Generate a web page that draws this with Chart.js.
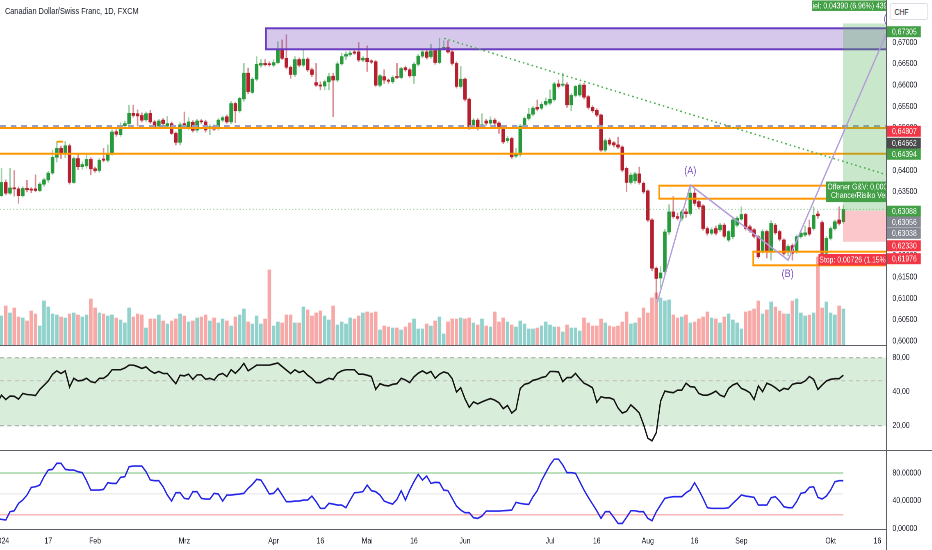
<!DOCTYPE html>
<html><head><meta charset="utf-8">
<script src="https://cdn.jsdelivr.net/npm/chart.js@4.4.0/dist/chart.umd.min.js"></script>
<style>
html,body{margin:0;padding:0;background:#fff;width:932px;height:550px;overflow:hidden;}
#wrap{position:relative;width:932px;height:550px;overflow:hidden;}
#inner{position:absolute;left:0;top:0;width:1137px;height:550px;transform:scaleX(0.82);transform-origin:0 0;font-family:'Liberation Sans',Arial,sans-serif;}
canvas{position:absolute;left:0;}
.ln{position:absolute;background:#5d5f66;}
#title{position:absolute;left:6px;top:6px;font-size:9px;color:#131722;white-space:nowrap;}
#chf{position:absolute;left:1085px;top:3px;width:47px;height:17px;border:1px solid #d6d9e0;border-radius:3px;background:#fff;font-size:8.4px;color:#131722;line-height:16px;padding-left:5px;box-sizing:border-box;}
</style></head>
<body><div id="wrap">
<div id="inner">
<canvas id="c1" width="1137" height="346" style="top:0"></canvas>
<canvas id="c2" width="1137" height="104" style="top:346px"></canvas>
<canvas id="c3" width="1137" height="100" style="top:450px"></canvas>
<div id="title">Canadian Dollar/Swiss Franc, 1D, FXCM</div>
<div id="chf">CHF</div>
</div>
<div class="ln" style="left:0;top:345px;width:886px;height:1px"></div>
<div class="ln" style="left:0;top:450px;width:932px;height:1px"></div>
<div class="ln" style="left:0;top:529px;width:886px;height:1px"></div>
<div class="ln" style="left:886px;top:0;width:1px;height:550px"></div>
</div>
<script>
const FONT = "'Liberation Sans',Arial,sans-serif";
Chart.defaults.font.family = FONT;
Chart.defaults.color = '#131722';
const S = 0.82;            // horizontal squeeze of the page (screen = inner * S)
const u = v => v / S;      // screen px -> inner px

// ---------- DATA ----------
const firstBar = 1; // bar index of first candle (trading days since 1 Jan 2024)
const opens = [
0.6341,0.6372,0.6347,0.6359,0.6357,0.6341,0.6358,0.6355,0.6357,0.6353,
0.6368,0.6378,0.6394,0.6431,0.6452,0.6440,0.6458,0.6372,0.6428,0.6409,
0.6411,0.6426,0.6404,0.6400,0.6427,0.6424,0.6440,0.6491,0.6484,0.6505,
0.6510,0.6534,0.6533,0.6529,0.6519,0.6534,0.6514,0.6504,0.6518,0.6504,
0.6510,0.6487,0.6466,0.6510,0.6499,0.6513,0.6495,0.6516,0.6514,0.6500,
0.6503,0.6498,0.6518,0.6526,0.6514,0.6557,0.6540,0.6568,0.6628,0.6583,
0.6614,0.6647,0.6651,0.6650,0.6647,0.6653,
0.6682,0.6663,0.6642,0.6625,0.6660,0.6647,0.6661,0.6636,0.6606,0.6600,
0.6598,0.6608,0.6621,0.6612,0.6650,0.6668,0.6672,0.6678,0.6678,0.6659,
0.6663,0.6657,0.6655,0.6600,0.6620,0.6612,0.6608,0.6620,0.6618,0.6641,
0.6636,0.6622,0.6649,0.6668,0.6678,0.6667,0.6681,0.6653,0.6686,0.6688,
0.6678,0.6651,0.6597,0.6614,0.6567,0.6503,0.6518,0.6503,0.6516,0.6511,
0.6518,0.6511,0.6499,0.6470,0.6475,0.6434,0.6437,0.6504,0.6522,0.6532,
0.6548,0.6546,0.6555,0.6558,0.6566,0.6603,0.6600,0.6601,0.6554,0.6576,
0.6577,0.6600,0.6573,0.6548,0.6541,0.6530,0.6448,0.6471,0.6465,0.6460,
0.6455,0.6405,0.6372,0.6376,0.6392,0.6370,0.6352,0.6284,0.6171,0.6148,
0.6163,0.6256,0.6303,0.6292,0.6288,0.6303,0.6299,0.6347,0.6327,0.6317,
0.6264,0.6253,0.6264,0.6261,0.6272,0.6237,0.6245,0.6272,0.6286,0.6297,
0.6268,0.6261,0.6245,0.6210,0.6257,0.6210,0.6272,0.6257,0.6237,0.6210,
0.6224,0.6210,0.6245,0.6249,0.6266,0.6264,0.6298,0.6278,0.6206,0.6241,
0.6264,0.6284,0.6280];
const highs = [
0.6405,0.6378,0.6405,0.6400,0.6362,0.6362,0.6377,0.6360,0.6390,0.6372,
0.6382,0.6398,0.6448,0.6468,0.6457,0.6468,0.6462,0.6432,0.6440,0.6420,
0.6440,0.6430,0.6408,0.6428,0.6452,0.6460,0.6495,0.6500,0.6512,0.6516,
0.6553,0.6553,0.6542,0.6535,0.6537,0.6541,0.6518,0.6520,0.6522,0.6527,
0.6514,0.6490,0.6512,0.6537,0.6524,0.6517,0.6520,0.6520,0.6518,0.6507,
0.6507,0.6522,0.6528,0.6530,0.6562,0.6560,0.6572,0.6651,0.6640,0.6618,
0.6667,0.6660,0.6660,0.6655,0.6660,0.6702,
0.6706,0.6718,0.6645,0.6667,0.6664,0.6682,0.6665,0.6640,0.6651,0.6608,
0.6612,0.6628,0.6628,0.6655,0.6675,0.6678,0.6680,0.6683,0.6700,0.6667,
0.6692,0.6660,0.6658,0.6625,0.6636,0.6615,0.6622,0.6651,0.6642,0.6645,
0.6640,0.6653,0.6672,0.6682,0.6682,0.6696,0.6685,0.6710,0.6704,0.6704,
0.6681,0.6655,0.6644,0.6617,0.6570,0.6522,0.6522,0.6533,0.6520,0.6526,
0.6522,0.6514,0.6503,0.6480,0.6478,0.6452,0.6508,0.6526,0.6546,0.6550,
0.6565,0.6560,0.6570,0.6589,0.6607,0.6612,0.6628,0.6606,0.6580,0.6600,
0.6604,0.6604,0.6576,0.6552,0.6545,0.6532,0.6474,0.6476,0.6468,0.6478,
0.6458,0.6408,0.6394,0.6396,0.6408,0.6373,0.6355,0.6287,0.6174,0.6175,
0.6262,0.6320,0.6339,0.6300,0.6308,0.6310,0.6366,0.6356,0.6330,0.6320,
0.6268,0.6266,0.6270,0.6276,0.6276,0.6260,0.6288,0.6292,0.6315,0.6300,
0.6272,0.6264,0.6248,0.6262,0.6260,0.6282,0.6276,0.6260,0.6240,0.6226,
0.6228,0.6249,0.6257,0.6270,0.6284,0.6315,0.6305,0.6282,0.6245,0.6268,
0.6284,0.6315,0.6318];
const lows = [
0.6339,0.6343,0.6344,0.6340,0.6323,0.6338,0.6350,0.6348,0.6350,0.6350,
0.6363,0.6372,0.6390,0.6420,0.6428,0.6430,0.6368,0.6370,0.6402,0.6403,
0.6405,0.6390,0.6396,0.6396,0.6420,0.6420,0.6436,0.6480,0.6480,0.6500,
0.6505,0.6525,0.6504,0.6514,0.6515,0.6510,0.6498,0.6500,0.6506,0.6500,
0.6484,0.6460,0.6460,0.6498,0.6496,0.6490,0.6490,0.6510,0.6490,0.6484,
0.6494,0.6495,0.6514,0.6510,0.6510,0.6512,0.6536,0.6562,0.6580,0.6580,
0.6610,0.6642,0.6645,0.6644,0.6643,0.6650,
0.6660,0.6638,0.6616,0.6620,0.6643,0.6643,0.6632,0.6620,0.6597,0.6589,
0.6589,0.6589,0.6526,0.6608,0.6647,0.6660,0.6668,0.6672,0.6655,0.6655,
0.6632,0.6650,0.6597,0.6596,0.6604,0.6604,0.6604,0.6615,0.6615,0.6632,
0.6618,0.6604,0.6645,0.6664,0.6661,0.6663,0.6649,0.6650,0.6683,0.6675,
0.6647,0.6593,0.6593,0.6563,0.6496,0.6498,0.6495,0.6499,0.6506,0.6507,
0.6506,0.6487,0.6463,0.6465,0.6428,0.6430,0.6433,0.6500,0.6518,0.6528,
0.6540,0.6542,0.6551,0.6554,0.6562,0.6593,0.6596,0.6548,0.6540,0.6572,
0.6574,0.6568,0.6544,0.6536,0.6526,0.6445,0.6444,0.6458,0.6455,0.6451,
0.6397,0.6350,0.6368,0.6370,0.6368,0.6346,0.6280,0.6165,0.6100,0.6125,
0.6158,0.6250,0.6288,0.6284,0.6282,0.6290,0.6295,0.6318,0.6310,0.6260,
0.6248,0.6249,0.6249,0.6257,0.6242,0.6233,0.6240,0.6268,0.6283,0.6260,
0.6255,0.6242,0.6194,0.6206,0.6195,0.6190,0.6250,0.6235,0.6202,0.6200,
0.6190,0.6206,0.6241,0.6245,0.6247,0.6260,0.6288,0.6200,0.6200,0.6237,
0.6260,0.6272,0.6276];
const closes = [
0.6372,0.6347,0.6359,0.6357,0.6341,0.6358,0.6355,0.6354,0.6353,0.6368,
0.6378,0.6394,0.6431,0.6452,0.6440,0.6458,0.6372,0.6428,0.6409,0.6414,
0.6426,0.6404,0.6400,0.6424,0.6424,0.6440,0.6490,0.6485,0.6505,0.6510,
0.6534,0.6529,0.6528,0.6518,0.6533,0.6514,0.6503,0.6516,0.6510,0.6510,
0.6487,0.6466,0.6507,0.6502,0.6514,0.6494,0.6516,0.6514,0.6495,0.6502,
0.6497,0.6518,0.6524,0.6514,0.6557,0.6540,0.6569,0.6628,0.6585,0.6614,
0.6649,0.6651,0.6648,0.6648,0.6653,0.6683,
0.6663,0.6642,0.6625,0.6660,0.6647,0.6661,0.6636,0.6625,0.6600,0.6598,
0.6608,0.6620,0.6612,0.6650,0.6667,0.6672,0.6675,0.6675,0.6659,0.6663,
0.6655,0.6654,0.6600,0.6622,0.6612,0.6609,0.6618,0.6618,0.6639,0.6636,
0.6622,0.6649,0.6668,0.6678,0.6665,0.6680,0.6653,0.6686,0.6688,0.6678,
0.6651,0.6597,0.6614,0.6567,0.6503,0.6518,0.6499,0.6507,0.6511,0.6518,
0.6511,0.6503,0.6467,0.6475,0.6432,0.6440,0.6504,0.6522,0.6532,0.6546,
0.6544,0.6555,0.6562,0.6567,0.6603,0.6597,0.6601,0.6554,0.6576,0.6597,
0.6600,0.6572,0.6548,0.6540,0.6530,0.6448,0.6470,0.6462,0.6460,0.6455,
0.6401,0.6372,0.6389,0.6392,0.6372,0.6350,0.6284,0.6171,0.6147,0.6160,
0.6256,0.6303,0.6292,0.6288,0.6303,0.6299,0.6347,0.6323,0.6315,0.6264,
0.6253,0.6261,0.6253,0.6272,0.6246,0.6257,0.6284,0.6288,0.6297,0.6264,
0.6259,0.6246,0.6198,0.6257,0.6210,0.6276,0.6254,0.6239,0.6206,0.6222,
0.6206,0.6245,0.6253,0.6254,0.6251,0.6295,0.6294,0.6206,0.6241,0.6264,
0.6280,0.6276,0.6309];
const volumes = [
30,40,33,38,29,28,25,35,32,20,45,39,32,31,29,28,32,33,31,29,31,47,38,33,32,30,31,28,26,23,
38,29,32,31,18,27,27,31,25,22,25,27,32,30,24,25,28,29,31,25,28,23,27,25,20,29,31,37,24,22,
30,22,27,76,20,24,
23,31,31,23,23,39,36,30,33,35,30,26,40,21,24,22,28,27,30,33,34,33,34,16,20,19,18,18,16,19,
23,27,17,17,22,20,25,29,12,24,27,27,28,27,28,23,21,27,20,19,34,24,28,24,21,19,25,22,17,17,
18,20,24,21,19,19,14,21,18,18,
15,28,23,20,20,27,23,20,19,20,24,34,22,23,28,38,33,48,53,48,45,46,31,28,29,31,23,24,27,29,
34,28,27,23,29,32,26,23,17,34,35,37,45,32,36,44,39,35,32,32,45,47,33,30,31,33,89,38,44,33,
31,40,37];
const indStart = 0; // bar index of first indicator value
const rsiValues = [
31.9,37.3,34.1,36.6,36.4,34.4,38.6,37.8,37.5,37.0,41.9,45.6,49.8,57.2,61.2,58.0,61.2,44.0,52.6,49.8,
50.5,52.6,49.1,48.1,52.6,52.6,56.0,62.6,62.6,62.6,64.8,68.8,68.8,66.8,64.4,66.3,61.2,58.3,60.4,58.0,
58.0,52.2,47.1,56.0,55.2,57.2,51.5,56.4,56.4,51.5,52.6,50.8,56.4,58.0,54.5,62.6,58.3,63.5,71.3,61.2,
64.8,68.8,68.8,68.8,68.8,70.3,71.8,66.8,62.2,58.0,62.6,59.2,61.2,56.0,52.6,48.1,48.1,50.5,52.6,51.5,
58.3,61.2,62.6,62.6,62.6,57.2,57.2,56.0,54.5,41.9,47.1,45.6,45.0,46.5,47.1,52.6,50.8,48.1,54.1,58.3,
61.2,58.0,60.4,52.6,57.2,59.9,58.3,52.2,39.7,43.4,34.6,
29.1,32.5,31.2,32.5,33.7,34.8,33.7,31.9,28.3,30.2,25.9,27.8,42.8,46.5,47.6,50.5,51.5,53.4,54.5,60.4,
60.4,59.9,49.1,53.4,53.4,58.0,52.2,47.6,45.6,43.4,32.2,36.1,35.3,35.3,34.1,28.7,25.9,26.8,30.6,28.3,
25.9,20.5,15.5,14.7,17.4,33.0,40.5,39.7,39.2,41.3,41.3,47.6,44.3,44.0,38.6,37.3,37.3,38.6,40.5,37.3,
36.1,42.8,45.9,47.6,42.8,41.3,39.2,34.1,45.0,40.0,47.6,45.9,43.4,40.5,42.8,41.9,46.5,47.6,47.6,49.8,
54.5,51.5,41.9,45.9,49.8,51.5,52.2,52.2,56.0];
const stochValues = [
14.8,13.4,12.4,24.4,25.8,36.4,41.2,48.4,59.4,60.3,62.7,74.7,84.3,85.3,93.9,93.9,85.3,84.3,84.3,81.9,
80.5,69.0,55.5,55.5,55.5,56.5,66.1,65.1,65.1,73.8,74.7,89.1,90.0,90.0,90.0,81.9,69.9,69.0,69.0,60.3,
48.4,39.7,51.7,51.7,43.6,42.6,53.2,53.2,43.6,42.6,42.6,50.8,49.8,39.7,48.4,48.4,49.3,49.8,50.8,58.0,
63.7,70.9,69.9,60.3,49.8,50.8,58.0,48.4,38.8,38.8,39.7,39.7,41.2,41.2,46.9,38.8,29.2,29.2,36.4,35.4,
34.0,34.0,30.2,41.2,51.7,52.2,53.2,62.7,54.6,53.2,48.4,39.7,37.3,35.4,42.1,54.6,41.2,55.5,67.5,78.1,
69.9,75.7,65.1,66.6,66.1,55.5,54.6,43.6,32.6,26.8,23.0,
23.0,15.8,14.8,18.2,25.4,25.4,25.4,25.4,25.8,26.3,26.8,37.8,36.4,35.4,34.9,46.0,54.6,69.0,80.5,91.5,
100,100,91.5,80.5,80.5,79.5,67.5,55.5,45.0,35.4,25.8,14.8,24.4,24.4,16.3,7.6,7.6,16.3,25.8,25.8,
24.4,24.4,14.8,11.5,24.4,34.0,43.6,45.0,46.0,46.0,46.0,51.7,55.5,66.1,55.5,43.6,30.2,29.2,29.2,29.2,
29.2,30.2,36.4,42.1,48.4,46.9,46.0,45.0,34.0,34.0,34.0,44.5,46.0,39.7,31.6,30.2,30.2,38.8,50.8,52.2,
59.4,60.3,45.0,42.6,46.9,55.5,67.5,69.0,69.0];
const priceTicks = [0.600,0.605,0.610,0.615,0.620,0.625,0.630,0.635,0.640,0.645,0.650,0.655,0.660,0.665,0.670];
const rsiTicks = [20,40,80];
const rsiLevels = [80,50,20];
const stochTicks = [0,40,80];
const stochLevels = [80,50,20];
const dateTickBars = [1,12,23,44,65,76,87,98,110,130,141,153,164,175,196,207];
const dateTickLabels = ['2024','17','Feb','Mrz','Apr','16','Mai','16','Jun','Jul','16','Aug','16','Sep','Okt','16'];

// drawings (bar index / price units)
const zone = {x0:63.2, top:0.67333, bottom:0.66841};
const dashLevel = 0.65043;
const orangeLevels = [0.64996, 0.64394];
const lastPrice = 0.63088;
const trend = [[105.1,0.67098],[203.0,0.64089]];
const abc = [[155.2,0.6090],[163.0,0.6366],[186.0,0.6190],[213.6,0.6824]];
const abcLabels = [['(A)',163.0,0.63988],['(B)',185.9,0.61575]];
const boxA = {x0:155.7, x1:199, top:0.63644, bottom:0.63339};
const boxB = {x0:177.8, x1:212, top:0.62097, bottom:0.61778};
const tick = {x0:14.1, x1:15.4, p:0.64675};
const pos = {x0:198.9, entry:0.63056, target:0.67446, stop:0.62330};
const sideLabels = [
 [0.67253,'0,67305','#43a047'],[0.64919,'0,64807','#f23645'],[0.64638,'0,64662','#4a4a4a'],
 [0.64380,'0,64394','#43a047'],[0.63046,'0,63088','#43a047'],[0.62793,'0,63056','#868993'],
 [0.62528,'0,63038','#868993'],[0.62236,'0,62330','#f23645'],[0.61933,'0,61976','#f23645']];

// ---------- SETUP ----------
const X_MIN = 0.647, X_MAX = 209.12;
const P_MIN = 0.59887, P_MAX = 0.67996;
const AXIS_W = 56;
const bars = opens.map((_, k) => firstBar + k);
const up = opens.map((o, k) => closes[k] >= o);
const UP = '#279a3b', DN = '#b51f2e', UPW = 'rgba(39,154,59,0.45)', DNW = 'rgba(181,31,46,0.5)';
const VUP = '#92d2cc', VDN = '#f7a9a7';
const fmt = (v, d) => v.toFixed(d).replace('.', ',');

function yAxis(extra) {
  return Object.assign({
    position: 'right', grid: {display: false, drawTicks: false}, border: {display: false},
    afterFit: s => { s.width = AXIS_W; s.paddingTop = 0; s.paddingBottom = 0; }
  }, extra);
}
const xHidden = {type: 'linear', min: X_MIN, max: X_MAX, offset: false, display: false};
const common = {responsive: false, animation: false, events: [], devicePixelRatio: 2, layout: {padding: 0},
  plugins: {legend: {display: false}, tooltip: {enabled: false}}};

function hline(ctx, a, y, color, w, dash) {
  ctx.save(); ctx.strokeStyle = color; ctx.lineWidth = w; ctx.setLineDash(dash);
  ctx.beginPath(); ctx.moveTo(a.left, y); ctx.lineTo(a.right, y); ctx.stroke(); ctx.restore();
}

const overlay = {
  id: 'overlay',
  afterDatasetsDraw(chart) {
    const {ctx, chartArea: a} = chart, xs = chart.scales.x, ys = chart.scales.y;
    const X = v => xs.getPixelForValue(v), Y = v => ys.getPixelForValue(v);
    ctx.save();
    ctx.beginPath(); ctx.rect(a.left, a.top, a.right - a.left, a.bottom - a.top); ctx.clip();
    // resistance zone
    const zx = X(zone.x0), zt = Y(zone.top), zb = Y(zone.bottom);
    ctx.fillStyle = 'rgba(103,58,183,0.28)'; ctx.fillRect(zx, zt, a.right + 10 - zx, zb - zt);
    ctx.strokeStyle = '#6a3cc0'; ctx.lineWidth = 2; ctx.strokeRect(zx, zt, a.right + 10 - zx, zb - zt);
    hline(ctx, a, Y(dashLevel), '#9a9dc8', 2, [7, 6]);
    orangeLevels.forEach(p => hline(ctx, a, Y(p), '#ff9800', 2, []));
    hline(ctx, a, Y(lastPrice), 'rgba(76,175,80,0.55)', 1, [1.5, 2.5]);
    // trendline dotted, extended right
    const [t0, t1] = trend; const sl = (t1[1] - t0[1]) / (t1[0] - t0[0]);
    ctx.save(); ctx.strokeStyle = '#4caf50'; ctx.lineWidth = 1.5; ctx.setLineDash([2, 3.5]);
    ctx.beginPath(); ctx.moveTo(X(t0[0]), Y(t0[1])); ctx.lineTo(X(215), Y(t0[1] + sl * (215 - t0[0]))); ctx.stroke(); ctx.restore();
    // long position
    const px = X(pos.x0), ye = Y(pos.entry), yt = Y(pos.target), yst = Y(pos.stop);
    ctx.fillStyle = 'rgba(76,175,80,0.3)'; ctx.fillRect(px, yt, a.right + 10 - px, ye - yt);
    ctx.fillStyle = 'rgba(242,54,69,0.28)'; ctx.fillRect(px, ye, a.right + 10 - px, yst - ye);
    // orange boxes
    ctx.strokeStyle = '#ff9800'; ctx.lineWidth = 2;
    [boxA, boxB].forEach(b => ctx.strokeRect(X(b.x0), Y(b.top), X(b.x1) - X(b.x0), Y(b.bottom) - Y(b.top)));
    ctx.beginPath(); ctx.moveTo(X(tick.x0), Y(tick.p)); ctx.lineTo(X(tick.x1), Y(tick.p)); ctx.stroke();
    // ABC path
    ctx.strokeStyle = '#b39ddb'; ctx.lineWidth = 1.6; ctx.beginPath();
    abc.forEach((p, i) => i ? ctx.lineTo(X(p[0]), Y(p[1])) : ctx.moveTo(X(p[0]), Y(p[1]))); ctx.stroke();
    ctx.fillStyle = '#7e57c2'; ctx.font = `11px ${FONT}`; ctx.textAlign = 'center'; ctx.textBaseline = 'middle';
    abcLabels.forEach(l => ctx.fillText(l[0], X(l[1]), Y(l[2])));
    ctx.textAlign = 'left'; ctx.fillText('(C)', a.right - u(2.8), 19);
    ctx.restore();
  },
  afterDraw(chart) {
    const {ctx, chartArea: a} = chart, xs = chart.scales.x, ys = chart.scales.y;
    const X = v => xs.getPixelForValue(v), Y = v => ys.getPixelForValue(v);
    const px = X(pos.x0), ye = Y(pos.entry), yt = Y(pos.target), yst = Y(pos.stop);
    ctx.save();
    ctx.beginPath(); ctx.rect(a.left, a.top, a.right - a.left, a.bottom - a.top); ctx.clip();
    ctx.font = `8.4px ${FONT}`; ctx.textBaseline = 'middle'; ctx.textAlign = 'left';
    // target label
    const zl = px - u(31);
    ctx.fillStyle = '#43a047'; ctx.fillRect(zl, yt - 23, u(80), 10.5);
    ctx.save(); ctx.beginPath(); ctx.rect(zl, yt - 23, u(80), 10.5); ctx.clip();
    ctx.fillStyle = '#fff'; ctx.fillText('Ziel: 0,04390 (6,96%) 4390', zl - ctx.measureText('Z').width + u(0.6), yt - 17.4); ctx.restore();
    // open P&L label
    ctx.fillStyle = '#43a047'; ctx.fillRect(px - u(17), ye - 29.2, u(70), 20.5);
    ctx.fillStyle = '#fff'; ctx.fillText('Offener G&V: 0,00032 (0,05%)', px - u(15.6), ye - 23.8);
    ctx.fillText('Chance/Risiko Verhältnis: 6,05', px - u(12), ye - 15.3);
    // stop label
    ctx.fillStyle = '#f23645'; ctx.fillRect(px - u(24.5), yst + 12.2, u(80), 11.5);
    ctx.fillStyle = '#fff'; ctx.fillText('Stop: 0,00726 (1,15%) 726', px - u(23.7), yst + 18.3);
    ctx.restore();
    // right-axis labels
    ctx.save(); ctx.font = `8.4px ${FONT}`; ctx.textBaseline = 'middle'; ctx.textAlign = 'left';
    sideLabels.forEach(([p, t, c]) => { const y = Y(p); ctx.fillStyle = c; ctx.fillRect(a.right + 1, y - 5.5, u(33.5), 11);
      ctx.fillStyle = '#fff'; ctx.fillText(t, a.right + u(5.5), y + 0.5); });
    ctx.restore();
  }
};

new Chart(document.getElementById('c1'), {
  type: 'bar',
  data: {datasets: [
    {label: 'body', yAxisID: 'y', grouped: false, order: 0, barThickness: u(3), minBarLength: 1,
     data: bars.map((b, k) => ({x: b, y: [Math.min(opens[k], closes[k]), Math.max(opens[k], closes[k])]})),
     backgroundColor: up.map(v => v ? UP : DN)},
    {label: 'wick', yAxisID: 'y', grouped: false, order: 1, barThickness: u(1),
     data: bars.map((b, k) => ({x: b, y: [lows[k], highs[k]]})),
     backgroundColor: up.map(v => v ? UPW : DNW)},
    {label: 'volume', yAxisID: 'yv', grouped: false, order: 2, barThickness: u(3),
     data: bars.map((b, k) => ({x: b, y: volumes[k]})),
     backgroundColor: up.map(v => v ? VUP : VDN)}
  ]},
  options: Object.assign({}, common, {
    scales: {
      x: xHidden,
      y: yAxis({min: P_MIN, max: P_MAX,
        afterBuildTicks: s => { s.ticks = priceTicks.map(v => ({value: v})); },
        ticks: {padding: u(6), color: '#131722', font: {size: 8.4}, callback: v => fmt(v, 5)}}),
      yv: {display: false, min: 0, max: 346}
    }
  }),
  plugins: [overlay]
});

const rsiBand = {
  id: 'rsiBand',
  beforeDatasetsDraw(chart) {
    const {ctx, chartArea: a} = chart, ys = chart.scales.y;
    const t = ys.getPixelForValue(rsiLevels[0]), m = ys.getPixelForValue(rsiLevels[1]), b = ys.getPixelForValue(rsiLevels[2]);
    ctx.save(); ctx.fillStyle = 'rgba(76,175,80,0.21)'; ctx.fillRect(a.left, t, a.right - a.left, b - t); ctx.restore();
    hline(ctx, a, t, '#a3a3a3', 1, [5, 4]); hline(ctx, a, b, '#a3a3a3', 1, [5, 4]); hline(ctx, a, m, '#bdbdbd', 1, [5, 4]);
  }
};
new Chart(document.getElementById('c2'), {
  type: 'line',
  data: {datasets: [{data: rsiValues.map((v, k) => ({x: indStart + k, y: v})), borderColor: '#111', borderWidth: 1.6,
    pointRadius: 0, tension: 0}]},
  options: Object.assign({}, common, {
    scales: {
      x: xHidden,
      y: yAxis({type: 'logarithmic', min: 12.19, max: 101.6,
        afterBuildTicks: s => { s.ticks = rsiTicks.map(v => ({value: v})); },
        ticks: {padding: u(6), color: '#131722', font: {size: 8.4}, callback: v => fmt(v, 2)}})
    }
  }),
  plugins: [rsiBand]
});

const stochLines = {
  id: 'stochLines',
  beforeDatasetsDraw(chart) {
    const {ctx} = chart, xs = chart.scales.x, ys = chart.scales.y;
    const x0 = xs.getPixelForValue(indStart), x1 = xs.getPixelForValue(firstBar + opens.length - 1);
    const st = [['#a5d6a7', 1.5], ['#e3e3e3', 1], ['#f8b9b9', 1.5]];
    stochLevels.forEach((lv, i) => { const y = ys.getPixelForValue(lv); ctx.save(); ctx.strokeStyle = st[i][0]; ctx.lineWidth = st[i][1];
      ctx.beginPath(); ctx.moveTo(x0, y); ctx.lineTo(x1, y); ctx.stroke(); ctx.restore(); });
  }
};
new Chart(document.getElementById('c3'), {
  type: 'line',
  data: {datasets: [{data: stochValues.map((v, k) => ({x: indStart + k, y: v})), borderColor: '#2424e8', borderWidth: 1.6,
    pointRadius: 0, tension: 0}]},
  options: Object.assign({}, common, {
    scales: {
      x: {type: 'linear', min: X_MIN, max: X_MAX, offset: false, position: 'bottom',
        grid: {display: false, drawTicks: false}, border: {display: false},
        afterBuildTicks: s => { s.ticks = dateTickBars.map(v => ({value: v})); },
        afterFit: s => { s.height = 20; s.paddingLeft = 0; s.paddingRight = 0; },
        ticks: {autoSkip: false, maxRotation: 0, padding: 6, color: '#131722', font: {size: 8.4},
          callback: (v, i) => dateTickLabels[i]}},
      y: yAxis({min: -1.87, max: 113.1,
        afterBuildTicks: s => { s.ticks = stochTicks.map(v => ({value: v})); },
        ticks: {padding: u(6), color: '#131722', font: {size: 8.4}, callback: v => fmt(v, 5)}})
    }
  }),
  plugins: [stochLines]
});
</script>
</body></html>
